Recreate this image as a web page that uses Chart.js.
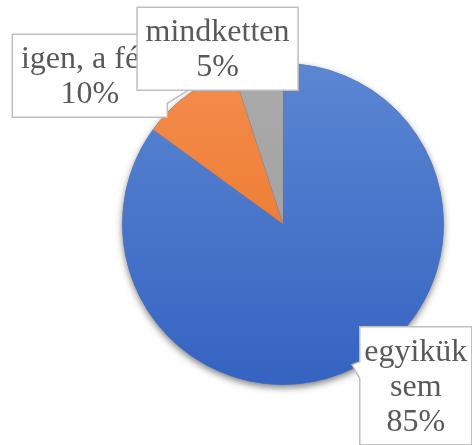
<!DOCTYPE html>
<html>
<head>
<meta charset="utf-8">
<script src="https://cdn.jsdelivr.net/npm/chart.js@4"></script>
<style>
  body { margin: 0; background: #fff; }
  canvas { display: block; }
</style>
</head>
<body>
<canvas id="chart" width="472" height="445"></canvas>
<script>
// data
const labels = ["egyikük sem", "igen, a férj", "mindketten"];
const values = [85, 10, 5];

// slice colours (top -> bottom of the pie gradient)
const topColors = ["#5b86d3", "#f38d4e", "#ababab"];
const bottomColors = ["#3563c1", "#eb6f1f", "#9a9a9a"];

// label boxes, placed relative to pie centre in units of radius
const boxes = [
  { cx: 0.826, cy: 1.006, w: 112, tip: [0.43, 0.875], side: "left", b1: 35, b2: 52 },
  { cx: -1.202, cy: -0.922, w: 155, tip: [-0.56, -0.85], side: "right", b1: 46, b2: 69 },
  { cx: -0.407, cy: -1.09, w: 161, tip: null }
];

const FONT = "32px 'Liberation Serif', 'Times New Roman', serif";
const LINE = 35;

function wrap(ctx, text, maxW) {
  const words = text.split(" ");
  const lines = [];
  let cur = "";
  words.forEach(w => {
    const t = cur ? cur + " " + w : w;
    if (cur && ctx.measureText(t).width > maxW) {
      lines.push(cur);
      cur = w;
    } else cur = t;
  });
  if (cur) lines.push(cur);
  return lines;
}

const shadowPlugin = {
  id: "pieShadow",
  beforeDatasetsDraw(chart) {
    const arc = chart.getDatasetMeta(0).data[0];
    const ctx = chart.ctx;
    ctx.save();
    ctx.shadowColor = "rgba(0,0,0,0.5)";
    ctx.shadowBlur = 7;
    ctx.shadowOffsetY = 3;
    ctx.fillStyle = "#4a74c6";
    ctx.beginPath();
    ctx.arc(arc.x, arc.y, arc.outerRadius, 0, Math.PI * 2);
    ctx.fill();
    ctx.restore();
  }
};

const labelPlugin = {
  id: "calloutLabels",
  afterDraw(chart) {
    const ctx = chart.ctx;
    const arc0 = chart.getDatasetMeta(0).data[0];
    const ox = arc0.x, oy = arc0.y, r = arc0.outerRadius;
    const total = values.reduce((a, b) => a + b, 0);

    ctx.save();
    ctx.font = FONT;
    labels.forEach((lab, i) => {
      const b = boxes[i];
      const lines = wrap(ctx, lab, b.w - 6);
      lines.push(Math.round(values[i] / total * 100) + "%");
      const h = lines.length * LINE + 13;
      const x = ox + b.cx * r - b.w / 2;
      const y = oy + b.cy * r - h / 2;

      ctx.beginPath();
      ctx.moveTo(x, y);
      ctx.lineTo(x + b.w, y);
      if (b.tip && b.side === "right") {
        ctx.lineTo(x + b.w, y + b.b1);
        ctx.lineTo(ox + b.tip[0] * r, oy + b.tip[1] * r);
        ctx.lineTo(x + b.w, y + b.b2);
      }
      ctx.lineTo(x + b.w, y + h);
      ctx.lineTo(x, y + h);
      if (b.tip && b.side === "left") {
        ctx.lineTo(x, y + b.b2);
        ctx.lineTo(ox + b.tip[0] * r, oy + b.tip[1] * r);
        ctx.lineTo(x, y + b.b1);
      }
      ctx.closePath();
      ctx.fillStyle = "#ffffff";
      ctx.fill();
      ctx.lineWidth = 1.5;
      ctx.strokeStyle = "#bfbfbf";
      ctx.stroke();

      ctx.fillStyle = "#595959";
      ctx.textAlign = "center";
      ctx.textBaseline = "alphabetic";
      lines.forEach((t, k) => {
        ctx.fillText(t, x + b.w / 2, y + LINE * (k + 1) - 1);
      });
    });
    ctx.restore();
  }
};

new Chart(document.getElementById("chart"), {
  type: "pie",
  data: {
    labels,
    datasets: [{
      data: values,
      backgroundColor: c => {
        const area = c.chart.chartArea;
        if (!area) return topColors[c.dataIndex];
        const g = c.chart.ctx.createLinearGradient(0, area.top, 0, area.bottom);
        g.addColorStop(0, topColors[c.dataIndex]);
        g.addColorStop(1, bottomColors[c.dataIndex]);
        return g;
      },
      borderWidth: 0.5,
      borderColor: "rgba(120,120,120,0.4)"
    }]
  },
  options: {
    responsive: false,
    animation: false,
    layout: { padding: { left: 122, right: 28, top: 63, bottom: 60 } },
    plugins: {
      legend: { display: false },
      tooltip: { enabled: false }
    }
  },
  plugins: [shadowPlugin, labelPlugin]
});
</script>
</body>
</html>
